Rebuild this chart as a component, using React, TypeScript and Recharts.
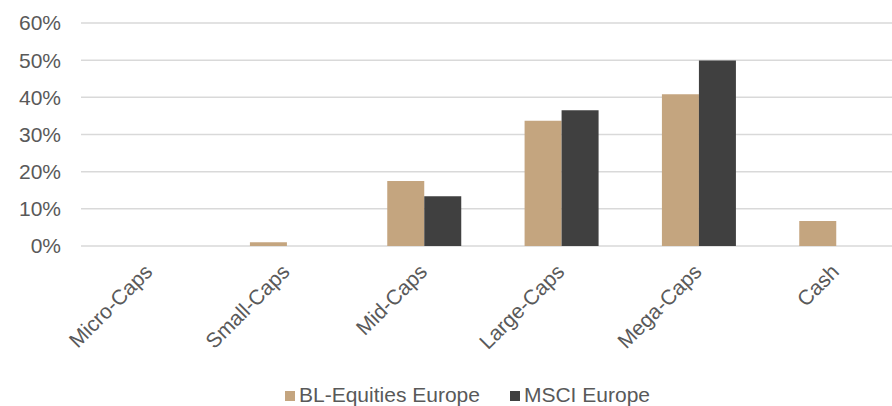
import React from 'react';
import { BarChart, Bar, XAxis, YAxis, CartesianGrid, Legend } from 'recharts';

const categories = ['Micro-Caps', 'Small-Caps', 'Mid-Caps', 'Large-Caps', 'Mega-Caps', 'Cash'];
const blEquities = [0, 1.0, 17.5, 33.7, 40.8, 6.7];
const msciEurope = [0, 0, 13.4, 36.5, 49.9, 0];
const yTicks = [0, 10, 20, 30, 40, 50, 60];

const seriesNames = ['BL-Equities Europe', 'MSCI Europe'];
const seriesColors = ['#C4A57F', '#404040'];

const data = categories.map((c, i) => ({ name: c, bl: blEquities[i], msci: msciEurope[i] }));

const FONT = '"Liberation Sans", Arial, sans-serif';
const TEXT = '#595959';

const XTick = (props: any) => {
  const { x, y, payload } = props;
  return (
    <g transform={`translate(${x + 4},${y + 27})`}>
      <text
        x={0}
        y={0}
        textAnchor="end"
        transform="rotate(-45)"
        fill={TEXT}
        fontSize={21}
        fontFamily={FONT}
      >
        {payload.value}
      </text>
    </g>
  );
};

const LegendContent = () => (
  <div
    style={{
      height: 30,
      boxSizing: 'border-box',
      paddingTop: 8,
      paddingLeft: 285,
      display: 'flex',
      alignItems: 'center',
      fontFamily: FONT,
      fontSize: 21,
      lineHeight: '24px',
      color: TEXT,
    }}
  >
    {seriesNames.map((n, i) => (
      <div key={n} style={{ display: 'flex', alignItems: 'center', marginRight: i === 0 ? 30 : 0 }}>
        <span
          style={{
            display: 'inline-block',
            width: 10,
            height: 10,
            background: seriesColors[i],
            marginRight: 4,
            marginTop: 2,
          }}
        />
        <span>{n}</span>
      </div>
    ))}
  </div>
);

export default function App() {
  return (
    <div style={{ position: 'absolute', left: 0, top: 0, width: 892, height: 406, overflow: 'hidden', background: '#fff' }}>
      <BarChart
        width={905}
        height={406}
        data={data}
        margin={{ top: 23, right: 0, bottom: 0, left: 0 }}
        barCategoryGap="23%"
        barGap={0}
      >
        <CartesianGrid vertical={false} stroke="#D9D9D9" strokeWidth={1.5} />
        <XAxis
          dataKey="name"
          axisLine={false}
          tickLine={false}
          tickSize={0}
          tickMargin={0}
          height={130}
          interval={0}
          tick={<XTick />}
        />
        <YAxis
          width={81}
          domain={[0, 60]}
          ticks={yTicks}
          axisLine={false}
          tickLine={false}
          tickMargin={14}
          tickFormatter={(v: number) => `${v}%`}
          tick={{ fill: TEXT, fontSize: 21, fontFamily: FONT }}
        />
        <Legend
          verticalAlign="bottom"
          wrapperStyle={{ left: 0, width: 905 }}
          content={<LegendContent />}
        />
        <Bar dataKey="bl" name={seriesNames[0]} fill={seriesColors[0]} isAnimationActive={false} />
        <Bar dataKey="msci" name={seriesNames[1]} fill={seriesColors[1]} isAnimationActive={false} />
      </BarChart>
    </div>
  );
}
